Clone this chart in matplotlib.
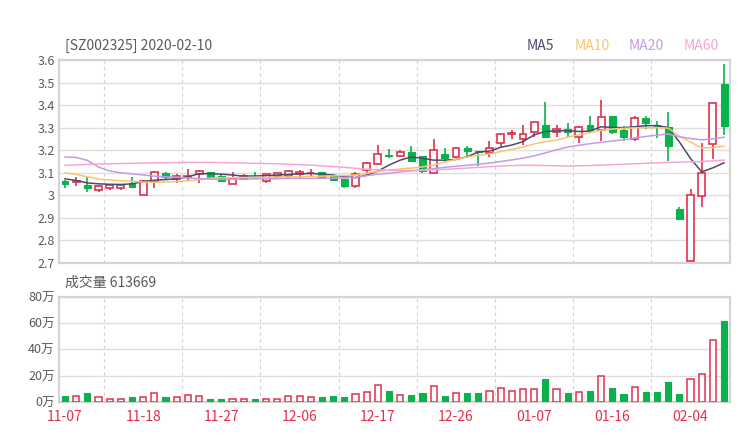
import numpy as np
import matplotlib
matplotlib.use('Agg')
import matplotlib.pyplot as plt

plt.rcParams['font.family'] = ['Noto Sans CJK SC', 'DejaVu Sans']

# daily OHLC, 60 trading days ending 2020-02-10
opens = [3.064, 3.060, 3.045, 3.022, 3.033, 3.033, 3.055, 3.001, 3.061, 3.097,
         3.073, 3.081, 3.094, 3.104, 3.087, 3.052, 3.072, 3.082, 3.063, 3.085,
         3.084, 3.093, 3.097, 3.104, 3.085, 3.073, 3.043, 3.113, 3.140, 3.181,
         3.175, 3.192, 3.173, 3.100, 3.182, 3.168, 3.211, 3.197, 3.189, 3.231,
         3.271, 3.248, 3.280, 3.312, 3.280, 3.293, 3.260, 3.310, 3.289, 3.352,
         3.291, 3.249, 3.341, 3.312, 3.301, 2.941, 2.708, 2.999, 3.228, 3.493]
highs = [3.070, 3.081, 3.082, 3.045, 3.051, 3.051, 3.082, 3.066, 3.106, 3.103,
         3.094, 3.115, 3.112, 3.105, 3.094, 3.104, 3.093, 3.103, 3.096, 3.101,
         3.110, 3.113, 3.118, 3.105, 3.094, 3.074, 3.103, 3.146, 3.225, 3.204,
         3.200, 3.219, 3.173, 3.248, 3.208, 3.214, 3.220, 3.197, 3.240, 3.271,
         3.290, 3.311, 3.324, 3.412, 3.311, 3.320, 3.309, 3.350, 3.421, 3.352,
         3.309, 3.352, 3.350, 3.329, 3.368, 2.948, 3.030, 3.230, 3.411, 3.582]
lows = [3.033, 3.043, 3.013, 3.013, 3.025, 3.025, 3.031, 3.000, 3.033, 3.073,
        3.055, 3.063, 3.055, 3.075, 3.060, 3.050, 3.068, 3.073, 3.055, 3.076,
        3.075, 3.075, 3.087, 3.073, 3.064, 3.033, 3.033, 3.094, 3.133, 3.166,
        3.172, 3.149, 3.100, 3.098, 3.149, 3.164, 3.171, 3.130, 3.171, 3.213,
        3.251, 3.223, 3.260, 3.259, 3.260, 3.260, 3.230, 3.279, 3.240, 3.270,
        3.243, 3.242, 3.294, 3.252, 3.151, 2.896, 2.708, 2.948, 3.160, 3.267]
closes = [3.051, 3.063, 3.031, 3.043, 3.045, 3.045, 3.039, 3.064, 3.104, 3.081,
          3.085, 3.085, 3.106, 3.082, 3.064, 3.076, 3.084, 3.079, 3.096, 3.097,
          3.106, 3.104, 3.101, 3.082, 3.070, 3.043, 3.096, 3.145, 3.185, 3.175,
          3.194, 3.152, 3.107, 3.201, 3.164, 3.211, 3.198, 3.192, 3.211, 3.271,
          3.275, 3.271, 3.323, 3.260, 3.293, 3.280, 3.301, 3.288, 3.349, 3.279,
          3.258, 3.341, 3.319, 3.309, 3.220, 2.896, 3.000, 3.101, 3.411, 3.309]
# volume in 万
volumes = [4.9, 4.4, 6.9, 4.1, 2.6, 2.6, 4.1, 4.1, 6.7, 3.6,
           3.8, 5.1, 4.9, 2.1, 2.6, 2.6, 2.1, 2.1, 2.6, 2.6,
           4.6, 4.6, 3.6, 4.1, 4.4, 3.8, 6.2, 7.2, 12.8, 8.7,
           5.3, 5.6, 6.8, 11.9, 4.8, 6.6, 6.8, 7.1, 8.4, 10.4,
           8.4, 10.1, 9.9, 17.5, 9.9, 6.6, 7.6, 8.4, 19.5, 10.9,
           6.1, 11.1, 7.6, 7.3, 14.9, 5.8, 17.5, 21.0, 46.8, 61.37]

ma5 = [3.073, 3.066, 3.055, 3.051, 3.049, 3.048, 3.051, 3.061, 3.067, 3.070,
       3.073, 3.082, 3.096, 3.096, 3.094, 3.090, 3.085, 3.086, 3.087, 3.090,
       3.093, 3.095, 3.097, 3.094, 3.090, 3.082, 3.078, 3.090, 3.107, 3.134,
       3.156, 3.170, 3.164, 3.156, 3.156, 3.159, 3.171, 3.192, 3.196, 3.213,
       3.223, 3.238, 3.268, 3.283, 3.286, 3.287, 3.283, 3.285, 3.304, 3.301,
       3.300, 3.304, 3.309, 3.309, 3.301, 3.237, 3.163, 3.104, 3.122, 3.144]
ma10 = [3.100, 3.093, 3.082, 3.072, 3.068, 3.065, 3.062, 3.059, 3.058, 3.059,
        3.061, 3.064, 3.070, 3.076, 3.078, 3.078, 3.079, 3.080, 3.080, 3.081,
        3.082, 3.083, 3.084, 3.085, 3.086, 3.088, 3.090, 3.098, 3.106, 3.112,
        3.117, 3.121, 3.126, 3.135, 3.148, 3.160, 3.170, 3.178, 3.183, 3.194,
        3.204, 3.214, 3.228, 3.238, 3.245, 3.258, 3.268, 3.278, 3.288, 3.294,
        3.297, 3.299, 3.300, 3.300, 3.298, 3.262, 3.236, 3.210, 3.212, 3.218]
ma20 = [3.170, 3.168, 3.155, 3.125, 3.108, 3.100, 3.095, 3.090, 3.085, 3.082,
        3.080, 3.077, 3.074, 3.072, 3.071, 3.071, 3.072, 3.073, 3.073, 3.074,
        3.075, 3.075, 3.075, 3.076, 3.076, 3.077, 3.080, 3.087, 3.094, 3.098,
        3.104, 3.108, 3.113, 3.118, 3.124, 3.129, 3.133, 3.138, 3.143, 3.150,
        3.157, 3.165, 3.175, 3.188, 3.202, 3.214, 3.222, 3.229, 3.235, 3.241,
        3.246, 3.254, 3.261, 3.267, 3.272, 3.260, 3.252, 3.246, 3.250, 3.258]
ma60 = [3.133, 3.135, 3.137, 3.139, 3.140, 3.141, 3.142, 3.143, 3.144, 3.145,
        3.145, 3.146, 3.146, 3.146, 3.145, 3.144, 3.143, 3.142, 3.141, 3.140,
        3.138, 3.136, 3.134, 3.131, 3.128, 3.124, 3.120, 3.116, 3.113, 3.111,
        3.110, 3.110, 3.111, 3.113, 3.115, 3.118, 3.121, 3.124, 3.127, 3.130,
        3.132, 3.133, 3.133, 3.132, 3.131, 3.130, 3.131, 3.132, 3.134, 3.136,
        3.138, 3.140, 3.142, 3.144, 3.146, 3.147, 3.148, 3.150, 3.153, 3.156]

tick_labels = ['11-07', '11-18', '11-27', '12-06', '12-17', '12-26', '01-07', '01-16', '02-04']
price_ticks = [2.7, 2.8, 2.9, 3.0, 3.1, 3.2, 3.3, 3.4, 3.5, 3.6]
vol_ticks = [0, 20, 40, 60, 80]

RED = '#e2304b'
GREEN = '#0bb14d'
GRID = '#dedede'
BORDER = '#d4d4d4'
TEXT = '#5a5a5a'
ma_colors = {'MA5': '#4c4a6e', 'MA10': '#f7c56f', 'MA20': '#c49be6', 'MA60': '#f7a6d4'}

x = np.arange(len(closes))
up = np.array(closes) >= np.array(opens)

fig = plt.figure(figsize=(7.4, 4.4), dpi=100)
ax = fig.add_axes([0.0803, 0.4023, 0.9057, 0.4613])
axv = fig.add_axes([0.0803, 0.0864, 0.9057, 0.2396])

for a in (ax, axv):
    a.set_xlim(-0.5, len(x) - 0.5)
    for s in a.spines.values():
        s.set_color(BORDER)
        s.set_linewidth(1.6)
    a.tick_params(length=0, colors=TEXT, labelsize=9)
    a.set_xticks([])
    a.yaxis.grid(True, color=GRID, linewidth=1)
    for gx in np.arange(3.5, len(x), 7):
        a.axvline(gx, color='#d2d2d2', linewidth=0.8, linestyle=(0, (3, 3)), zorder=0)
    a.set_axisbelow(True)

# candles
ax.vlines(x, lows, highs, colors=np.where(up, RED, GREEN), linewidth=1.2, zorder=2)
body_bottom = np.minimum(opens, closes)
body_height = np.maximum(np.abs(np.array(closes) - np.array(opens)), 0.003)
ax.bar(x[up], body_height[up], bottom=body_bottom[up], width=0.62,
       facecolor='white', edgecolor=RED, linewidth=1.2, zorder=3)
ax.bar(x[~up], body_height[~up], bottom=body_bottom[~up], width=0.62,
       facecolor=GREEN, edgecolor=GREEN, linewidth=0.8, zorder=3)

for name, vals in zip(['MA5', 'MA10', 'MA20', 'MA60'], [ma5, ma10, ma20, ma60]):
    ax.plot(x, vals, color=ma_colors[name], linewidth=1.1, zorder=4)

ax.set_ylim(2.7, 3.6)
ax.set_yticks(price_ticks)
ax.set_yticklabels(['%g' % t for t in price_ticks])

# volume
vols = np.array(volumes)
axv.bar(x[up], vols[up], width=0.55, facecolor='white', edgecolor=RED, linewidth=1.1, zorder=3)
axv.bar(x[~up], vols[~up], width=0.55, facecolor=GREEN, edgecolor=GREEN, linewidth=0.8, zorder=3)
axv.set_ylim(0, 80)
axv.set_yticks(vol_ticks)
axv.set_yticklabels(['%d万' % t for t in vol_ticks])
axv.set_xticks(np.arange(0, len(x), 7)[:len(tick_labels)])
axv.set_xticklabels(tick_labels, color=RED, fontsize=10)
axv.tick_params(axis='x', pad=6)

fig.text(0.088, 0.895, '[SZ002325] 2020-02-10', color=TEXT, fontsize=10, va='center')
fig.text(0.088, 0.357, '成交量 613669', color=TEXT, fontsize=10, va='center')
for name, lx in zip(['MA5', 'MA10', 'MA20', 'MA60'], [0.712, 0.776, 0.850, 0.924]):
    fig.text(lx, 0.895, name, color=ma_colors[name], fontsize=10, va='center')

fig.savefig('out.png', dpi=100)
